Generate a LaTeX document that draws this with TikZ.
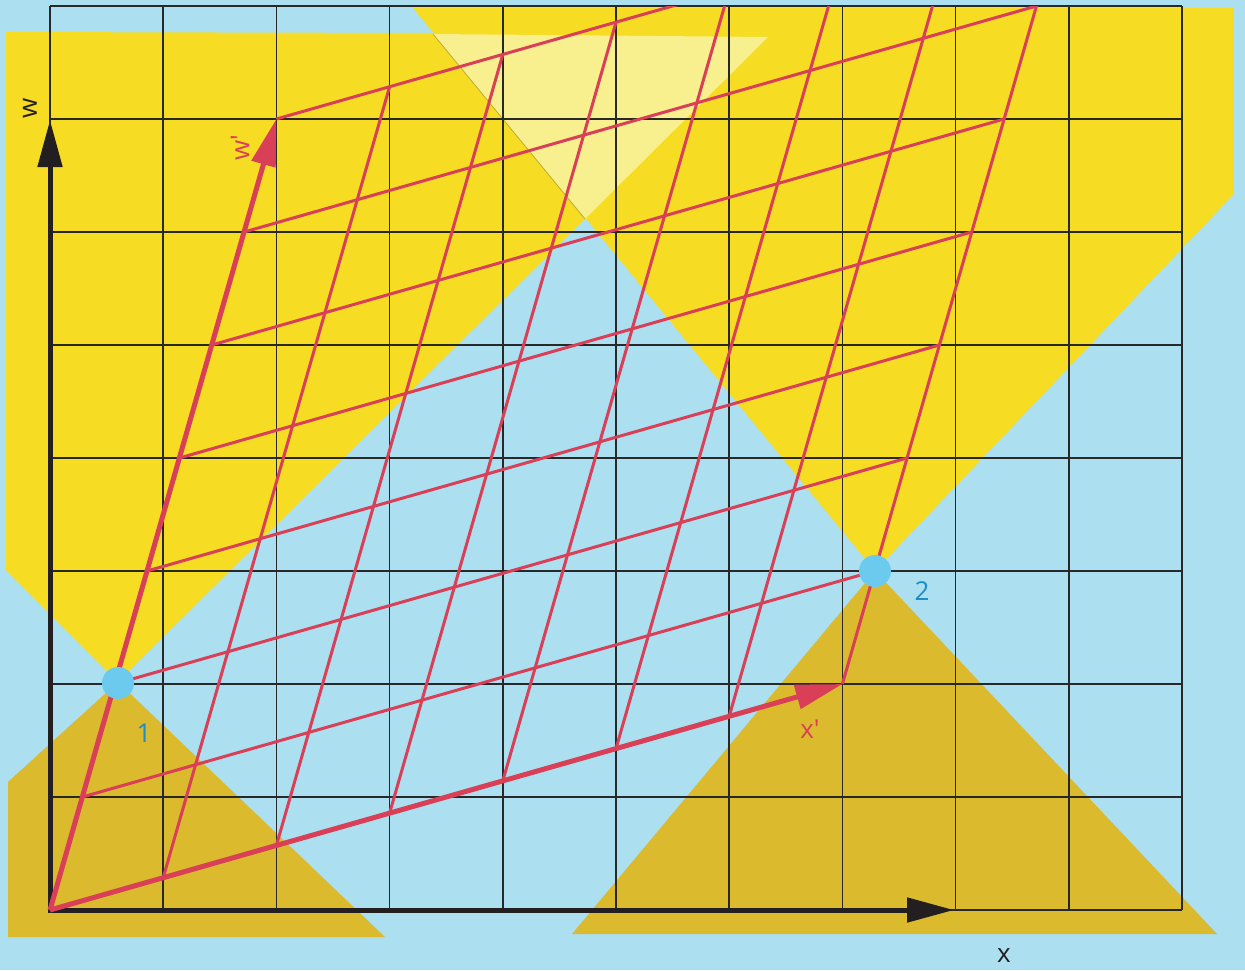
\documentclass[tikz,border=0pt]{standalone}
\usepackage{fontspec}
\setmainfont{Open Sans}
\usetikzlibrary{arrows.meta}
\definecolor{bgblue}{RGB}{172,223,239}
\definecolor{cyel}{RGB}{246,221,35}
\definecolor{pyel}{RGB}{219,186,46}
\definecolor{lyel}{RGB}{248,239,142}
\definecolor{olivec}{RGB}{190,170,50}
\definecolor{rred}{RGB}{217,64,87}
\definecolor{ptblue}{RGB}{108,202,239}
\definecolor{lblblue}{RGB}{27,141,201}
\definecolor{axblack}{RGB}{35,31,32}
\definecolor{gridc}{RGB}{40,40,40}
\begin{document}
\begin{tikzpicture}[x=1pt,y=-1pt,
  gridline/.style={gridc, line width=1.7pt},
  redline/.style={rred, line width=3pt},
  redaxis/.style={rred, line width=5pt, -{Triangle[length=47pt,width=24pt]}},
  blackaxis/.style={axblack, line width=5pt, line cap=rect, -{Triangle[length=47pt,width=24pt]}},
  event/.style={circle, fill=ptblue, minimum size=32pt, inner sep=0pt},
  lbl/.style={font=\fontsize{26}{30}\selectfont, inner sep=0pt}
]
\fill[bgblue] (0,0) rectangle (1245,970);
\useasboundingbox (0,0) rectangle (1245,970);
% future light cones
\fill[cyel] (875,571) -- (413,8) -- (1233,8) -- (1233,195) -- cycle;
\fill[cyel] (118,682) -- (6,570) -- (6,32) -- (433,33) -- (768,37) -- cycle;
\fill[lyel] (433,34) -- (768,37) -- (585,219) -- cycle;
\draw[olivec, line width=0.8pt] (433,34) -- (585,219);
% past light cones
\fill[pyel] (118,682) -- (8,782) -- (8,937) -- (385,937) -- cycle;
\fill[pyel] (875,571) -- (572,934) -- (1217,934) -- cycle;
% rest frame grid
\foreach \i in {0,...,10} \draw[gridline] ({50+113.2*\i},6) -- ({50+113.2*\i},910);
\foreach \j in {0,...,8} \draw[gridline] (50,{910-113*\j}) -- (1182,{910-113*\j});
% moving frame grid
\begin{scope}[shift={(50,910)}, x={(113.2pt,0pt)}, y={(0pt,113pt)}]
  \coordinate (O) at (0,0);
  \coordinate (xp) at (7,2);
  \coordinate (wp) at (2,7);
  \clip (-1,-1) rectangle (11,8);
  \foreach \k in {1,...,7} \draw[redline] ({2*\k/7},\k) -- ({2*\k/7+7},{\k+2});
  \foreach \k in {1,...,7} \draw[redline] (\k,{2*\k/7}) -- ({\k+2},{2*\k/7+7});
\end{scope}
% rest frame axes
\coordinate (wtip) at (50,120);
\coordinate (xtip) at (954,910);
\draw[blackaxis] (O) -- (wtip);
\draw[blackaxis] (O) -- (xtip);
% moving frame axes
\draw[redaxis] (O) -- (xp);
\draw[redaxis] (O) -- (wp);
% events
\node[event] (p1) at (118,683) {};
\node[event] (p2) at (875,571) {};
% labels
\node[lbl, text=lblblue] (l1) at (144,733) {1};
\node[lbl, text=lblblue] (l2) at (922,591) {2};
\node[lbl, text=rred] (lxp) at (810,729) {x\textquotesingle};
\node[lbl, text=rred, rotate=90] (lwp) at (240,148) {w\textquotesingle};
\node[lbl, text=axblack, rotate=90] (lw) at (30,108) {w};
\node[lbl, text=axblack] (lx) at (1004,956) {x};
\end{tikzpicture}
\end{document}
